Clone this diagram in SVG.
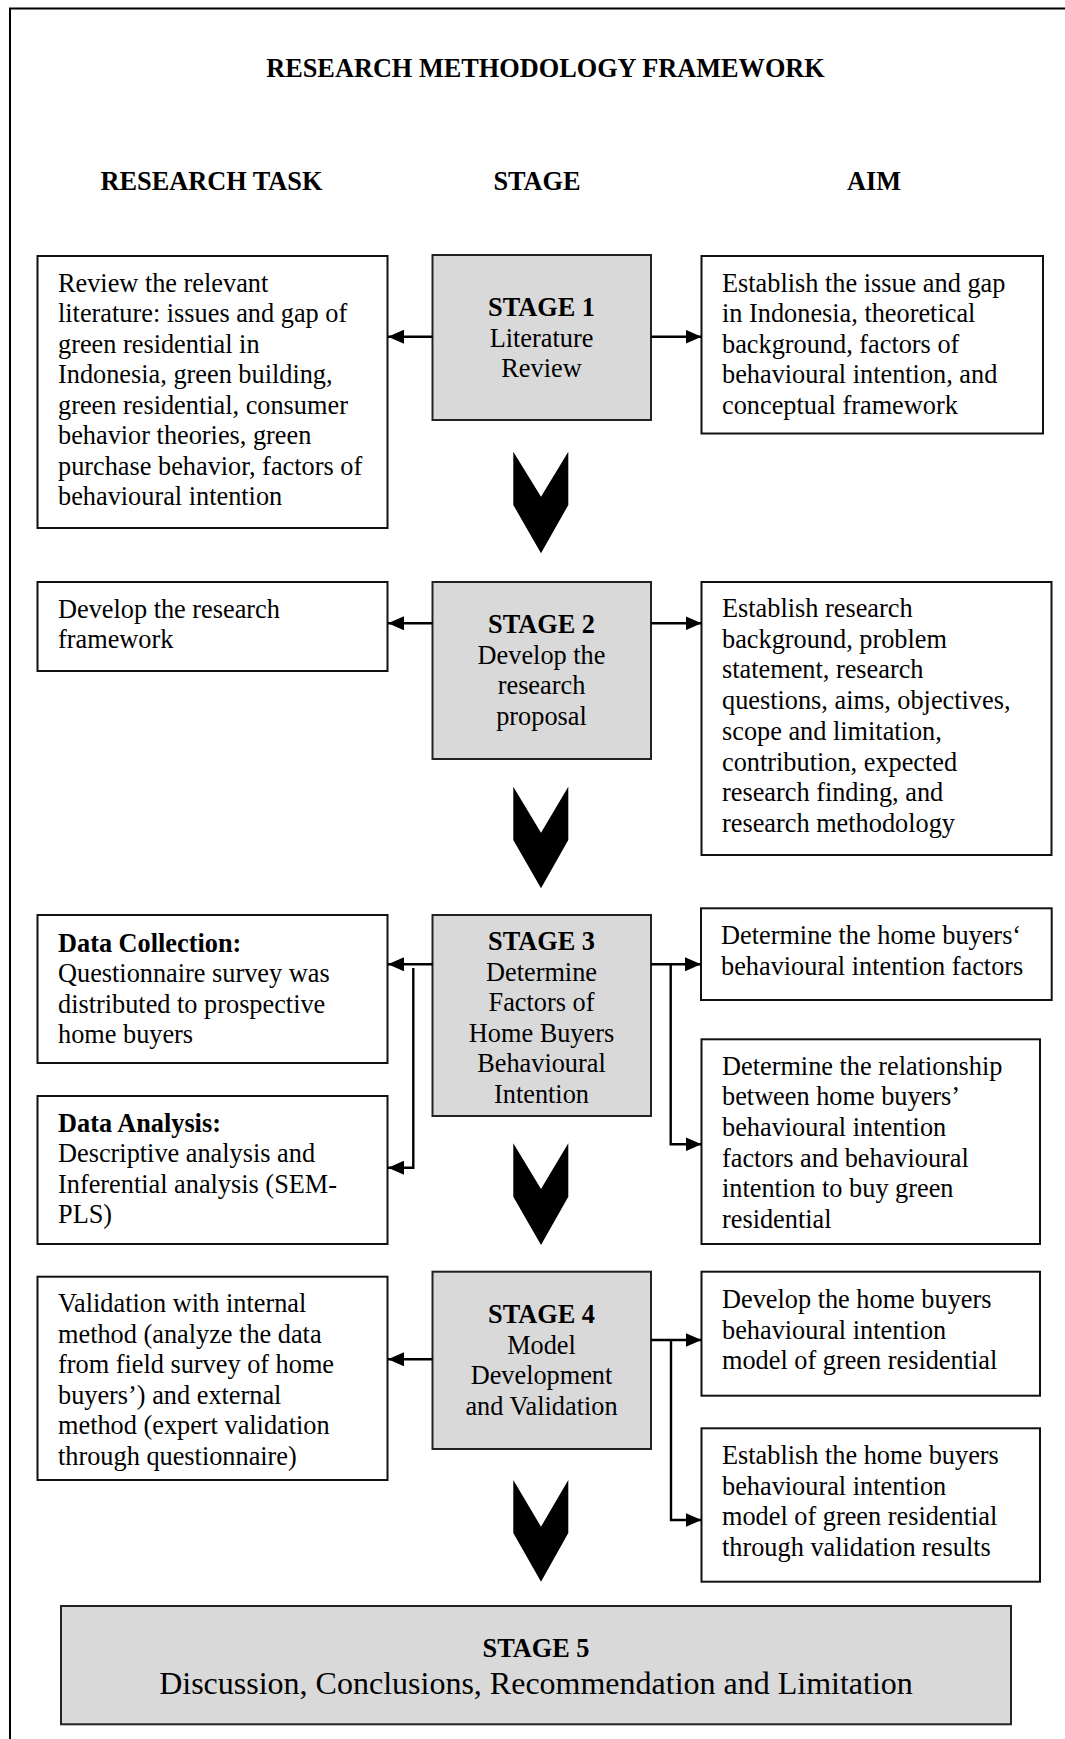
<svg xmlns="http://www.w3.org/2000/svg" width="1065" height="1739" viewBox="0 0 1065 1739">
<style>
text{font-family:"Liberation Serif","Times New Roman",serif;font-size:26.3px;fill:#000}
.b{font-weight:bold}
.c{text-anchor:middle}
.box{fill:#fff;stroke:#111;stroke-width:2}
.stage{fill:#d9d9d9;stroke:#222;stroke-width:2}
.conn{fill:none;stroke:#000;stroke-width:2.4}
.chev{fill:#000}
</style>
<defs>
<marker id="ah" markerUnits="userSpaceOnUse" markerWidth="16" markerHeight="14" refX="16" refY="7" orient="auto">
<path d="M0,0 L16,7 L0,14 z" fill="#000"/>
</marker>
</defs>
<rect width="1065" height="1739" fill="#fff"/>
<path d="M10,1739 L10,8.5 L1065,8.5" fill="none" stroke="#000" stroke-width="2"/>
<g id="headers">
<text class="b c" x="545.5" y="77">RESEARCH METHODOLOGY FRAMEWORK</text>
<text class="b c" x="211.5" y="190">RESEARCH TASK</text>
<text class="b c" x="537" y="190">STAGE</text>
<text class="b c" x="874" y="190">AIM</text>
</g>
<g id="task1"><rect class="box" x="37.5" y="256" width="350" height="272"/>
<text x="58" y="291.5">Review the relevant</text>
<text x="58" y="322">literature: issues and gap of</text>
<text x="58" y="352.5">green residential in</text>
<text x="58" y="383">Indonesia, green building,</text>
<text x="58" y="413.5">green residential, consumer</text>
<text x="58" y="444">behavior theories, green</text>
<text x="58" y="474.5">purchase behavior, factors of</text>
<text x="58" y="505">behavioural intention</text></g>
<g id="stage1"><rect class="stage" x="432.5" y="255" width="218.5" height="165"/>
<text class="b c" x="541.5" y="316">STAGE 1</text>
<text class="c" x="541.5" y="346.5">Literature</text>
<text class="c" x="541.5" y="377">Review</text></g>
<g id="aim1"><rect class="box" x="701.5" y="256" width="341.5" height="177.5"/>
<text x="722" y="291.5">Establish the issue and gap</text>
<text x="722" y="322">in Indonesia, theoretical</text>
<text x="722" y="352.5">background, factors of</text>
<text x="722" y="383">behavioural intention, and</text>
<text x="722" y="413.5">conceptual framework</text></g>
<g id="task2"><rect class="box" x="37.5" y="582" width="350" height="89"/>
<text x="58" y="617.5">Develop the research</text>
<text x="58" y="648">framework</text></g>
<g id="stage2"><rect class="stage" x="432.5" y="582" width="218.5" height="177"/>
<text class="b c" x="541.5" y="633.3">STAGE 2</text>
<text class="c" x="541.5" y="663.5">Develop the</text>
<text class="c" x="541.5" y="694">research</text>
<text class="c" x="541.5" y="724.5">proposal</text></g>
<g id="aim2"><rect class="box" x="701.5" y="582" width="350" height="273"/>
<text x="722" y="617">Establish research</text>
<text x="722" y="647.7">background, problem</text>
<text x="722" y="678.4">statement, research</text>
<text x="722" y="709.1">questions, aims, objectives,</text>
<text x="722" y="739.8">scope and limitation,</text>
<text x="722" y="770.5">contribution, expected</text>
<text x="722" y="801.2">research finding, and</text>
<text x="722" y="831.9">research methodology</text></g>
<g id="task3a"><rect class="box" x="37.5" y="915" width="350" height="148"/>
<text class="b" x="58" y="951.5">Data Collection:</text>
<text x="58" y="982">Questionnaire survey was</text>
<text x="58" y="1012.5">distributed to prospective</text>
<text x="58" y="1043">home buyers</text></g>
<g id="task3b"><rect class="box" x="37.5" y="1096" width="350" height="148"/>
<text class="b" x="58" y="1131.5">Data Analysis:</text>
<text x="58" y="1162">Descriptive analysis and</text>
<text x="58" y="1192.5">Inferential analysis (SEM-</text>
<text x="58" y="1223">PLS)</text></g>
<g id="stage3"><rect class="stage" x="432.5" y="915" width="218.5" height="201"/>
<text class="b c" x="541.5" y="950">STAGE 3</text>
<text class="c" x="541.5" y="980.5">Determine</text>
<text class="c" x="541.5" y="1011">Factors of</text>
<text class="c" x="541.5" y="1041.5">Home Buyers</text>
<text class="c" x="541.5" y="1072">Behavioural</text>
<text class="c" x="541.5" y="1102.5">Intention</text></g>
<g id="aim3a"><rect class="box" x="701" y="908.3" width="350.7" height="91.7"/>
<text x="721" y="944">Determine the home buyers‘</text>
<text x="721" y="975">behavioural intention factors</text></g>
<g id="aim3b"><rect class="box" x="701.5" y="1039.3" width="338.5" height="204.7"/>
<text x="722" y="1074.5">Determine the relationship</text>
<text x="722" y="1105.2">between home buyers’</text>
<text x="722" y="1135.9">behavioural intention</text>
<text x="722" y="1166.6">factors and behavioural</text>
<text x="722" y="1197.3">intention to buy green</text>
<text x="722" y="1228">residential</text></g>
<g id="task4"><rect class="box" x="37.5" y="1276.7" width="350" height="203.3"/>
<text x="58" y="1312">Validation with internal</text>
<text x="58" y="1342.6">method (analyze the data</text>
<text x="58" y="1373.2">from field survey of home</text>
<text x="58" y="1403.8">buyers’) and external</text>
<text x="58" y="1434.4">method (expert validation</text>
<text x="58" y="1465">through questionnaire)</text></g>
<g id="stage4"><rect class="stage" x="432.5" y="1271.7" width="218.5" height="177.3"/>
<text class="b c" x="541.5" y="1323.3">STAGE 4</text>
<text class="c" x="541.5" y="1353.5">Model</text>
<text class="c" x="541.5" y="1384">Development</text>
<text class="c" x="541.5" y="1414.5">and Validation</text></g>
<g id="aim4a"><rect class="box" x="701.5" y="1271.7" width="338.5" height="124"/>
<text x="722" y="1308">Develop the home buyers</text>
<text x="722" y="1338.7">behavioural intention</text>
<text x="722" y="1369.4">model of green residential</text></g>
<g id="aim4b"><rect class="box" x="701.5" y="1428.3" width="338.5" height="153.4"/>
<text x="722" y="1464">Establish the home buyers</text>
<text x="722" y="1494.7">behavioural intention</text>
<text x="722" y="1525.4">model of green residential</text>
<text x="722" y="1556">through validation results</text></g>
<g id="stage5"><rect class="stage" x="61" y="1606" width="950" height="118.3"/>
<text class="b c" x="536" y="1657">STAGE 5</text>
<text class="c" x="536" y="1694" style="font-size:32px">Discussion, Conclusions, Recommendation and Limitation</text></g>
<g id="connectors">
<line class="conn" x1="432.5" y1="336.7" x2="388" y2="336.7" marker-end="url(#ah)"/>
<line class="conn" x1="651" y1="336.7" x2="701.5" y2="336.7" marker-end="url(#ah)"/>
<line class="conn" x1="432.5" y1="623.3" x2="388" y2="623.3" marker-end="url(#ah)"/>
<line class="conn" x1="651" y1="623.3" x2="701.5" y2="623.3" marker-end="url(#ah)"/>
<line class="conn" x1="432.5" y1="964.3" x2="388" y2="964.3" marker-end="url(#ah)"/>
<polyline class="conn" points="413.3,968 413.3,1167.7 388,1167.7" marker-end="url(#ah)"/>
<line class="conn" x1="651" y1="964.3" x2="701" y2="964.3" marker-end="url(#ah)"/>
<polyline class="conn" points="670.7,964.3 670.7,1144.3 701.5,1144.3" marker-end="url(#ah)"/>
<line class="conn" x1="432.5" y1="1359.3" x2="388" y2="1359.3" marker-end="url(#ah)"/>
<line class="conn" x1="651" y1="1340" x2="701.5" y2="1340" marker-end="url(#ah)"/>
<polyline class="conn" points="671,1340 671,1520 701.5,1520" marker-end="url(#ah)"/>
<path class="chev" d="M513.3,451.7 L541,496.7 L568.3,451.7 L568.3,505 L541,553.3 L513.3,505 z"/>
<path class="chev" d="M513.3,786.7 L541,832.7 L568.3,786.7 L568.3,840 L541,888.3 L513.3,840 z"/>
<path class="chev" d="M513.3,1143.3 L541,1189 L568.3,1143.3 L568.3,1196.8 L541,1245 L513.3,1196.8 z"/>
<path class="chev" d="M513.3,1480 L541,1526.7 L568.3,1480 L568.3,1533 L541,1581.7 L513.3,1533 z"/>
</g>
</svg>
